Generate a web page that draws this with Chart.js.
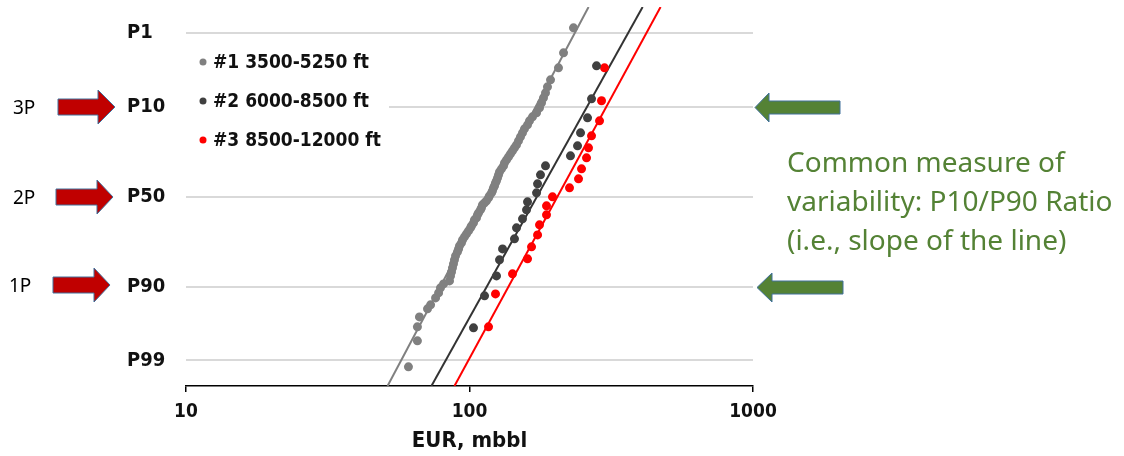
<!DOCTYPE html>
<html><head><meta charset="utf-8">
<script src="https://cdn.jsdelivr.net/npm/chart.js@4.4.0/dist/chart.umd.min.js"></script>
<style>
html,body{margin:0;padding:0;background:#fff;}
#wrap{position:relative;width:1124px;height:456px;overflow:hidden;background:#fff;}
#c{position:absolute;left:0;top:0;}
svg{position:absolute;left:0;top:0;}
.lab{position:absolute;font-family:"Noto Sans","Open Sans",sans-serif;color:#000;font-size:19px;line-height:20px;}
.note{position:absolute;left:787px;top:142px;font-family:"Noto Sans","Open Sans",sans-serif;font-size:28px;line-height:39px;color:#548235;white-space:nowrap;}
</style></head>
<body><div id="wrap"><canvas id="c" width="1124" height="456"></canvas>
<svg width="1124" height="456">
<g fill="#c00000" stroke="#41719c" stroke-width="1">
<polygon points="58,99 98,99 98,90 115,107 98,124 98,115 58,115"/>
<polygon points="56,189 97,189 97,180 113,197 97,214 97,205 56,205"/>
<polygon points="53,277 94,277 94,268 110,285 94,302 94,293 53,293"/>
</g>
<g fill="#548235" stroke="#41719c" stroke-width="1">
<polygon points="755,107.5 769,93 769,101 840,101 840,114 769,114 769,122"/>
<polygon points="757,287.5 772,273 772,281 843,281 843,294 772,294 772,302"/>
</g>
</svg>
<div class="lab" style="left:13px;top:97px">3P</div>
<div class="lab" style="left:13px;top:187px">2P</div>
<div class="lab" style="left:9px;top:275px">1P</div>
<div class="note">Common measure of<br>variability: P10/P90 Ratio<br>(i.e., slope of the line)</div>
</div>
<script>
// probability levels (exceedance %) and their labels
const pLevels = [1, 10, 50, 90, 99];
const pLabels = ['P1', 'P10', 'P50', 'P90', 'P99'];
const xTicks = [10, 100, 1000];
const seriesLabels = ['#1 3500-5250 ft', '#2 6000-8500 ft', '#3 8500-12000 ft'];

// Series #1 (gray): EUR (mbbl) and normal score (z)
const s1EUR = [60.9,65.5,65.5,66.6,71.1,72.9,75.9,77.8,79.0,81.0,
  85.0,85.7,86.4,87.1,87.8,88.5,89.3,90.7,91.5,92.2,
  93.7,94.5,96.0,97.6,99.2,100.8,101.6,103.3,104.1,105.8,
  106.7,107.6,109.3,110.2,111.1,113.0,114.8,116.7,117.6,119.6,
  120.5,121.5,122.5,123.5,124.5,125.6,126.6,127.6,129.7,131.9,
  132.9,135.1,137.3,139.5,141.8,144.1,146.5,148.9,151.3,153.8,
  156.3,160.2,162.8,166.8,172.4,176.6,179.5,182.4,185.4,188.4,
  193.1,206.0,214.6,232.7];
const s1Z = [-2.418,-2.048,-1.849,-1.707,-1.593,-1.536,-1.437,-1.366,-1.294,-1.238,
  -1.195,-1.124,-1.067,-1.010,-0.953,-0.896,-0.839,-0.782,-0.740,-0.697,
  -0.654,-0.612,-0.569,-0.526,-0.484,-0.441,-0.413,-0.370,-0.327,-0.299,
  -0.256,-0.228,-0.185,-0.156,-0.114,-0.085,-0.057,-0.014,0.014,0.057,
  0.085,0.128,0.156,0.199,0.228,0.270,0.313,0.356,0.398,0.441,
  0.484,0.526,0.569,0.612,0.654,0.697,0.740,0.797,0.853,0.910,
  0.967,1.024,1.081,1.138,1.195,1.266,1.337,1.408,1.479,1.565,
  1.664,1.835,2.048,2.404];

// Series #2 (dark)
const s2EUR = [103.3,113.0,124.5,127.6,130.8,144.1,146.5,153.8,158.9,160.2,172.4,173.8,178.0,185.4,227.1,240.5,246.4,260.8,269.4,280.6];
const s2Z = [-1.863,-1.408,-1.124,-0.896,-0.740,-0.597,-0.441,-0.313,-0.185,-0.071,0.057,0.185,0.313,0.441,0.583,0.725,0.910,1.124,1.394,1.863];

// Series #3 (red)
const s3EUR = [116.7,123.5,141.8,160.2,165.5,173.8,176.6,186.9,186.9,196.2,225.3,242.4,248.4,258.7,262.9,269.4,287.5,292.2,299.4];
const s3Z = [-1.849,-1.380,-1.095,-0.882,-0.711,-0.541,-0.398,-0.256,-0.128,0.000,0.128,0.256,0.398,0.555,0.697,0.868,1.081,1.366,1.835];

// Fitted lines (end points)
const fitZ = [-2.69, 2.70];
const fit1EUR = [51.4, 263];
const fit2EUR = [73.4, 408];
const fit3EUR = [88.5, 472];

function normInv(p){
  const a=[-3.969683028665376e+01,2.209460984245205e+02,-2.759285104469687e+02,1.383577518672690e+02,-3.066479806614716e+01,2.506628277459239e+00];
  const b=[-5.447609879822406e+01,1.615858368580409e+02,-1.556989798598866e+02,6.680131188771972e+01,-1.328068155288572e+01];
  const c=[-7.784894002430293e-03,-3.223964580411365e-01,-2.400758277161838e+00,-2.549732539343734e+00,4.374664141464968e+00,2.938163982698783e+00];
  const d=[7.784695709041462e-03,3.224671290700398e-01,2.445134137142996e+00,3.754408661907416e+00];
  const pl=0.02425, ph=1-pl; let q,r;
  if(p<pl){q=Math.sqrt(-2*Math.log(p));return (((((c[0]*q+c[1])*q+c[2])*q+c[3])*q+c[4])*q+c[5])/((((d[0]*q+d[1])*q+d[2])*q+d[3])*q+1);}
  if(p<=ph){q=p-0.5;r=q*q;return (((((a[0]*r+a[1])*r+a[2])*r+a[3])*r+a[4])*r+a[5])*q/(((((b[0]*r+b[1])*r+b[2])*r+b[3])*r+b[4])*r+1);}
  q=Math.sqrt(-2*Math.log(1-p));return -(((((c[0]*q+c[1])*q+c[2])*q+c[3])*q+c[4])*q+c[5])/((((d[0]*q+d[1])*q+d[2])*q+d[3])*q+1);
}
const zOfP = p => -normInv(p/100);
const toPts = (xs, zs) => xs.map((x, i) => ({x: x, y: zs[i]}));

const FONT = '"DejaVu Sans Condensed","DejaVu Sans",sans-serif';

const insideLegend = {
  id: 'insideLegend',
  beforeDatasetsDraw(chart){
    const ctx = chart.ctx;
    const area = chart.chartArea;
    ctx.save();
    ctx.fillStyle = '#fff';
    ctx.fillRect(area.left, 45, 203, 110);
    const items = chart.data.datasets.filter(d => d.inLegend);
    ctx.font = 'bold 19px ' + FONT;
    ctx.textBaseline = 'middle';
    items.forEach((d, i) => {
      const y = 62 + i * 39;
      ctx.fillStyle = d.backgroundColor;
      ctx.beginPath(); ctx.arc(203, y, 3.5, 0, Math.PI * 2); ctx.fill();
      ctx.fillStyle = '#111';
      ctx.fillText(d.label, 213, y + 1);
    });
    ctx.restore();
  }
};

new Chart(document.getElementById('c'), {
  type: 'scatter',
  data: { datasets: [
    {label: seriesLabels[0], inLegend: true, data: toPts(s1EUR, s1Z), backgroundColor: '#808080', borderColor: '#808080', pointRadius: 4.5, pointBorderWidth: 0},
    {label: seriesLabels[1], inLegend: true, data: toPts(s2EUR, s2Z), backgroundColor: '#404040', borderColor: '#404040', pointRadius: 4.5, pointBorderWidth: 0},
    {label: seriesLabels[2], inLegend: true, data: toPts(s3EUR, s3Z), backgroundColor: '#ff0000', borderColor: '#ff0000', pointRadius: 4.5, pointBorderWidth: 0},
    {type: 'line', label: 'fit1', data: toPts(fit1EUR, fitZ), borderColor: '#808080', borderWidth: 2, pointRadius: 0, fill: false},
    {type: 'line', label: 'fit2', data: toPts(fit2EUR, fitZ), borderColor: '#333333', borderWidth: 2, pointRadius: 0, fill: false},
    {type: 'line', label: 'fit3', data: toPts(fit3EUR, fitZ), borderColor: '#ff0000', borderWidth: 2, pointRadius: 0, fill: false}
  ]},
  options: {
    responsive: false, animation: false, devicePixelRatio: 1,
    layout: {padding: {left: 127, right: 371, top: 7, bottom: 0}},
    plugins: {legend: {display: false}, tooltip: {enabled: false}},
    scales: {
      x: {
        type: 'logarithmic', min: 10, max: 1000,
        afterBuildTicks: s => { s.ticks = xTicks.map(v => ({value: v})); },
        afterFit: s => { s.height = 70; },
        ticks: {callback: v => String(v), font: {family: FONT, size: 19, weight: 'bold'}, color: '#111', padding: 9, maxRotation: 0, autoSkip: false},
        grid: {drawOnChartArea: false, drawTicks: true, tickLength: 6, color: '#000', lineWidth: 1.5},
        border: {display: true, color: '#000', width: 1.5},
        title: {display: true, text: 'EUR, mbbl', color: '#111', font: {family: FONT, size: 22, weight: 'bold'}, padding: {top: 0, bottom: 2}}
      },
      y: {
        type: 'linear', min: -2.69, max: 2.70,
        afterBuildTicks: s => { s.ticks = pLevels.map(p => ({value: zOfP(p)})); },
        afterFit: s => { s.width = 59; s.paddingTop = 0; s.paddingBottom = 0; },
        ticks: {callback: (v, i) => pLabels[i], crossAlign: 'far', font: {family: FONT, size: 20, weight: 'bold'}, color: '#111', autoSkip: false},
        grid: {color: '#d9d9d9', lineWidth: 2, drawTicks: false},
        border: {display: false}
      }
    }
  },
  plugins: [insideLegend]
});
</script>
</body></html>
